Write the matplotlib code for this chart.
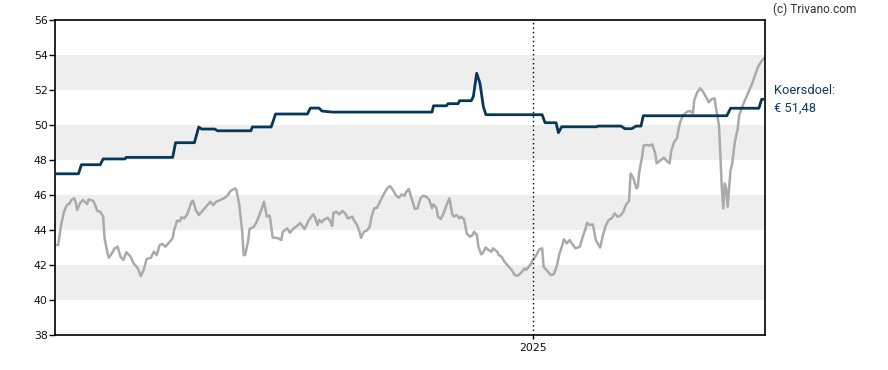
import numpy as np
import matplotlib
matplotlib.use("Agg")
import matplotlib.pyplot as plt
import matplotlib.dates as mdates

# ---- data ----
start_date = "2024-02-06"
end_date = "2025-06-10"
year_tick = "2025-01-01"
year_label = "2025"

price_days = [0, 2, 4, 6, 8, 10, 11, 13, 14, 15, 17, 19, 22, 23, 26, 27, 29, 31, 33, 34,
              36, 37, 39, 41, 43, 45, 47, 49, 52, 54, 57, 59, 61, 63, 66, 68, 70, 72, 74, 76,
              79, 81, 82, 84, 86, 87, 89, 91, 94, 95, 97, 99, 101, 104, 107, 109, 111, 114, 117, 119,
              121, 124, 125, 127, 129, 130, 131, 133, 134, 137, 139, 141, 143, 144, 146, 147, 148, 150, 152, 154,
              156, 157, 160, 162, 164, 167, 169, 172, 175, 178, 179, 181, 182, 184, 185, 188, 190, 191, 192, 194,
              196, 198, 200, 202, 205, 206, 208, 210, 211, 213, 215, 217, 218, 220, 222, 224, 226, 229, 231, 233,
              235, 237, 239, 241, 242, 244, 245, 247, 248, 250, 252, 254, 256, 258, 260, 261, 263, 264, 266, 268,
              270, 272, 274, 275, 277, 279, 280, 282, 284, 286, 288, 289, 291, 292, 294, 295, 297, 299, 301, 302,
              305, 306, 308, 310, 313, 315, 317, 319, 321, 324, 325, 328, 330, 332, 334, 336, 337, 340, 342, 344,
              346, 348, 350, 351, 353, 355, 357, 359, 362, 364, 366, 367, 369, 371, 373, 375, 376, 378, 380, 382,
              384, 386, 388, 390, 392, 394, 396, 397, 399, 401, 402, 403, 405, 406, 408, 410, 412, 414, 415, 417,
              420, 422, 424, 425, 427, 429, 430, 431, 433, 436, 438, 440, 441, 443, 445, 447, 449, 451, 453, 455,
              456, 458, 459, 460, 461, 462, 463, 464, 466, 467, 469, 471, 472, 475, 478, 481, 483, 485, 488, 490]
price_values = [43.15, 43.15, 44.29, 45.05, 45.43, 45.53, 45.72, 45.82, 45.63, 45.15, 45.53, 45.72, 45.49, 45.76, 45.68, 45.53, 45.09, 45.05, 44.77, 43.53,
                42.67, 42.42, 42.67, 42.96, 43.05, 42.48, 42.29, 42.73, 42.48, 42.10, 41.81, 41.37, 41.72, 42.34, 42.42, 42.77, 42.57, 43.15, 43.20, 43.05,
                43.34, 43.53, 44.00, 44.54, 44.50, 44.73, 44.67, 44.90, 45.62, 45.68, 45.15, 44.86, 45.05, 45.34, 45.62, 45.43, 45.62, 45.72, 45.85, 46.00,
                46.24, 46.39, 46.29, 45.43, 43.91, 42.57, 42.57, 43.34, 44.06, 44.19, 44.48, 44.90, 45.34, 45.62, 44.77, 44.82, 44.82, 43.58, 43.56, 43.53,
                43.43, 43.91, 44.10, 43.85, 44.06, 44.25, 44.40, 44.06, 44.58, 44.90, 44.77, 44.29, 44.58, 44.44, 44.58, 44.71, 44.48, 44.23, 45.00, 45.05,
                44.90, 45.09, 44.96, 44.67, 44.77, 44.58, 44.33, 43.91, 43.56, 43.91, 43.97, 44.19, 44.67, 45.24, 45.28, 45.62, 45.95, 46.39, 46.52, 46.29,
                46.00, 45.85, 46.04, 45.95, 46.16, 46.35, 46.04, 45.53, 45.21, 45.24, 45.82, 45.97, 45.91, 45.75, 45.25, 45.47, 45.28, 44.77, 44.63, 44.96,
                45.43, 45.82, 44.90, 44.77, 44.86, 44.67, 44.77, 44.63, 43.81, 43.62, 43.72, 43.91, 43.72, 43.05, 42.61, 42.67, 43.00, 42.86, 42.76, 42.96,
                42.76, 42.57, 42.48, 42.19, 41.90, 41.72, 41.43, 41.39, 41.52, 41.81, 41.72, 42.04, 42.34, 42.57, 42.90, 42.96, 41.90, 41.62, 41.43, 41.47,
                41.90, 42.67, 43.15, 43.47, 43.24, 43.43, 43.18, 42.96, 43.05, 43.62, 44.10, 44.42, 44.29, 44.33, 43.43, 43.15, 43.00, 43.72, 44.29, 44.58,
                44.67, 44.96, 44.77, 44.82, 45.05, 45.47, 45.66, 47.24, 46.96, 46.39, 46.48, 47.34, 48.20, 48.83, 48.87, 48.83, 48.90, 48.39, 47.82, 47.95,
                48.14, 47.95, 47.82, 48.50, 49.02, 49.25, 49.70, 50.10, 50.54, 50.77, 50.81, 50.68, 51.44, 51.88, 52.11, 51.92, 51.63, 51.31, 51.50, 51.54,
                50.96, 50.01, 48.29, 46.39, 45.24, 46.67, 46.39, 45.34, 47.43, 47.72, 49.06, 49.82, 50.58, 51.25, 51.82, 52.39, 52.87, 53.35, 53.73, 53.88]

target_days = [0, 16, 18, 31, 33, 48, 49, 81, 83, 96, 98, 99, 101, 110, 112, 135, 136, 149, 152,
               174, 176, 182, 184, 191, 260, 261, 270, 271, 278, 279, 287, 288.5, 290.8, 293.1, 295.4, 297.2,
               336, 338, 345.6, 347.2, 349.5, 373.6, 374.5, 390.4, 393.1, 397.8, 400.8, 404.2, 405.8,
               463.4, 466.1, 485.6, 487.5, 490]
target_values = [47.22, 47.22, 47.74, 47.74, 48.07, 48.07, 48.16, 48.16, 49.00, 49.00, 49.60, 49.90, 49.78, 49.78, 49.68, 49.68, 49.90, 49.90, 50.64,
                 50.64, 50.98, 50.98, 50.81, 50.75, 50.75, 51.11, 51.11, 51.23, 51.23, 51.40, 51.40, 51.63, 52.97, 52.40, 51.06, 50.60,
                 50.60, 50.14, 50.14, 49.57, 49.91, 49.91, 49.95, 49.95, 49.80, 49.80, 49.95, 49.95, 50.54,
                 50.54, 50.97, 50.97, 51.48, 51.48]

bands = [(40, 42), (44, 46), (48, 50), (52, 54)]
y_ticks = [38, 40, 42, 44, 46, 48, 50, 52, 54, 56]
target_label = "Koersdoel:\n€ 51,48"
copyright_text = "(c) Trivano.com"

# ---- figure ----
W, H = 888, 370
fig = plt.figure(figsize=(W / 100, H / 100), dpi=100)
ax = fig.add_axes([55.3 / W, 1 - 335 / H, 710 / W, (335 - 20.3) / H])

t0 = np.datetime64(start_date)
price_x = t0 + np.round(np.array(price_days) * 24).astype("timedelta64[h]")
target_x = t0 + np.round(np.array(target_days) * 24).astype("timedelta64[h]")

for lo, hi in bands:
    ax.axhspan(lo, hi, color="#eeeeee", lw=0, zorder=0)

ax.plot(price_x, price_values, color="#aaaaaa", lw=1.8, zorder=2, solid_joinstyle="round")
ax.plot(target_x, target_values, color="#07385a", lw=2.0, zorder=3, solid_joinstyle="round")

ax.axvline(np.datetime64(year_tick), color="black", lw=1.0, ls=(0, (1, 2.2)), zorder=4)

ax.set_xlim(np.datetime64(start_date), np.datetime64(end_date))
ax.set_ylim(38, 56)
ax.set_yticks(y_ticks)
ax.set_xticks([mdates.date2num(np.datetime64(year_tick))])
ax.set_xticklabels([year_label])

for s in ax.spines.values():
    s.set_color("black")
    s.set_linewidth(1.2)

ax.tick_params(axis="y", direction="out", length=4, width=1, pad=1.5,
               labelsize=7.8, labelcolor="#111111")
ax.tick_params(axis="x", direction="out", length=3, width=1, pad=3,
               labelsize=7.8, labelcolor="#111111")
for lab in ax.get_xticklabels() + ax.get_yticklabels():
    lab.set_family("DejaVu Sans")

fig.text(773 / W, 1 - 9 / H, copyright_text, ha="left", va="center",
         fontsize=8.6, family="Roboto", color="#333333")
fig.text(774 / W, 1 - 99.5 / H, target_label, ha="left", va="center",
         fontsize=9.3, family="Roboto", color="#0b3d62", linespacing=1.45)

fig.savefig("out.png", dpi=100)
